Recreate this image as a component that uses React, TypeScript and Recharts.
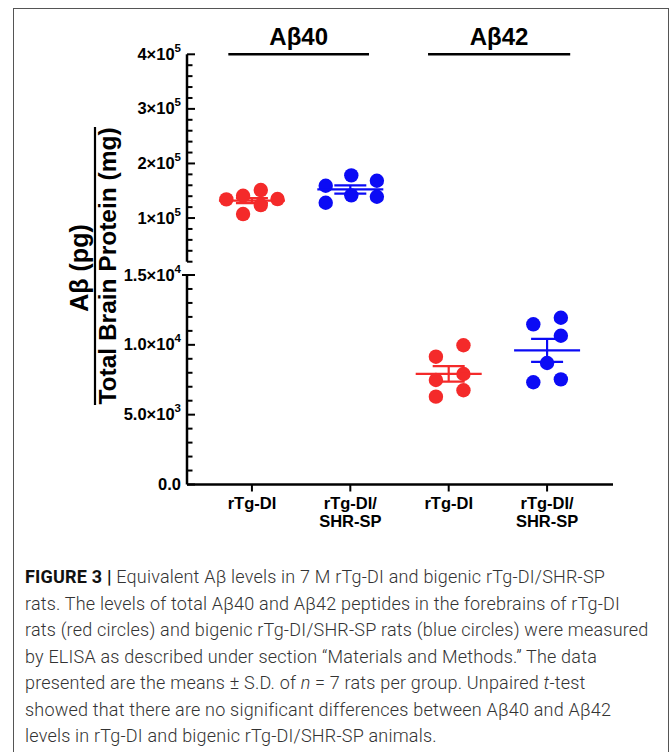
import React from 'react';
import { ScatterChart, Scatter, XAxis, YAxis, ErrorBar, ReferenceLine } from 'recharts';

const FONT = '"Liberation Sans", Arial, sans-serif';
const RED = '#f42a2a';
const BLUE = '#0b0bf5';

// x positions are group numbers; jitter is the horizontal spread
const groupTicks = [1, 2, 3, 4];
const groupLabels = [['rTg-DI'], ['rTg-DI/', 'SHR-SP'], ['rTg-DI'], ['rTg-DI/', 'SHR-SP']];

// Aβ40 (upper axis segment)
const ab40RedValues = [134200, 140800, 151300, 134800, 107300, 123800];
const ab40RedJitter = [-0.26, -0.09, 0.09, 0.26, -0.09, 0.09];
const ab40BlueValues = [159200, 128000, 178200, 141600, 168300, 139000];
const ab40BlueJitter = [-0.25, -0.25, 0.01, 0.01, 0.27, 0.27];

// Aβ42 (lower axis segment)
const ab42RedValues = [9150, 9970, 7480, 7910, 6750, 6290];
const ab42RedJitter = [-0.13, 0.15, -0.13, 0.15, 0.15, -0.13];
const ab42BlueValues = [11470, 11940, 10650, 8700, 7320, 7530];
const ab42BlueJitter = [-0.14, 0.14, 0.14, 0, -0.14, 0.14];

// mean ± error for each group
const groupMeans = [132000, 152400, 7920, 9600];
const groupErrors = [4600, 7600, 550, 820];

const upperTicks = [
  20000, 40000, 60000, 80000, 100000, 120000, 140000, 160000, 180000, 200000,
  220000, 240000, 260000, 280000, 300000, 320000, 340000, 360000, 380000, 400000,
];
const upperLabels: Record<number, [string, string]> = {
  100000: ['1×10', '5'],
  200000: ['2×10', '5'],
  300000: ['3×10', '5'],
  400000: ['4×10', '5'],
};
const lowerTicks = [
  0, 1000, 2000, 3000, 4000, 5000, 6000, 7000, 8000, 9000, 10000, 11000, 12000, 13000, 14000, 15000,
];
const lowerLabels: Record<number, [string, string]> = {
  0: ['0.0', ''],
  5000: ['5.0×10', '3'],
  10000: ['1.0×10', '4'],
  15000: ['1.5×10', '4'],
};

const toPoints = (values: number[], jitter: number[], group: number) =>
  values.map((v, i) => ({ x: group + jitter[i], y: v }));

const W = 672;
const H = 560;
const X_DOMAIN: [number, number] = [0.34, 4.67];
const MARGIN_X = { left: 87, right: 59 };

function Dot(color: string) {
  return (p: any) => <circle cx={p.cx} cy={p.cy} r={7.2} fill={color} />;
}

function MeanLine(color: string) {
  return (p: any) => (
    <line x1={p.cx - 33} x2={p.cx + 33} y1={p.cy} y2={p.cy} stroke={color} strokeWidth={2.2} />
  );
}

function YTick({ x, y, payload, labels, capValue }: any) {
  const label = labels[payload.value];
  const major = label !== undefined;
  return (
    <g>
      <line
        x1={payload.value === capValue ? x - 5 : x}
        x2={x + (major ? 8 : 5.5)}
        y1={y}
        y2={y}
        stroke="#000"
        strokeWidth={2}
      />
      {label && (
        <text x={x - 6} y={y} dy={5.5} textAnchor="end" fontSize={16.5} fontWeight="bold" fill="#000">
          <tspan>{label[0]}</tspan>
          {label[1] && (
            <tspan dy={-8} fontSize={11.5}>
              {label[1]}
            </tspan>
          )}
        </text>
      )}
    </g>
  );
}

function XTick({ x, y, payload }: any) {
  const lines = groupLabels[payload.value - 1] || [];
  return (
    <text x={x} y={y} textAnchor="middle" fontSize={16.5} fontWeight="bold" fill="#000">
      {lines.map((l, i) => (
        <tspan key={i} x={x} dy={i === 0 ? 9 : 18.5}>
          {l}
        </tspan>
      ))}
    </text>
  );
}

function MeanSeries({ group, color }: { group: number; color: string }) {
  const data = [{ x: groupTicks[group], y: groupMeans[group], err: groupErrors[group] }];
  return (
    <Scatter data={data} shape={MeanLine(color)} isAnimationActive={false}>
      <ErrorBar dataKey="err" direction="y" width={16} stroke={color} strokeWidth={2.2} isAnimationActive={false} />
    </Scatter>
  );
}

export default function App() {
  return (
    <div style={{ position: 'relative', width: W, height: 752, overflow: 'hidden', fontFamily: FONT, background: '#fff' }}>
      <style>{'body{margin:0}'}</style>
      <div style={{ position: 'absolute', left: 13, top: 8, width: 656, height: 800, border: '1px solid #555', boxSizing: 'border-box' }} />

      {/* upper segment: Aβ40 */}
      <div style={{ position: 'absolute', left: 0, top: 0 }}>
        <ScatterChart width={W} height={H} margin={{ top: 54.3, bottom: H - 261.7, ...MARGIN_X }}>
          <XAxis type="number" dataKey="x" domain={X_DOMAIN} hide />
          <YAxis
            type="number"
            dataKey="y"
            width={100}
            domain={[20000, 400000]}
            ticks={upperTicks}
            interval={0}
            tickLine={false}
            tickSize={0}
            tickMargin={0}
            axisLine={{ stroke: '#000', strokeWidth: 2.5 }}
            tick={<YTick labels={upperLabels} capValue={-1} />}
          />
          <ReferenceLine
            segment={[{ x: 0.76, y: 400000 }, { x: 2.19, y: 400000 }]}
            stroke="#000"
            strokeWidth={2.5}
            label={{ value: 'Aβ40', position: 'top', offset: 9, fontSize: 24, fontWeight: 'bold', fill: '#000' }}
          />
          <ReferenceLine
            segment={[{ x: 2.79, y: 400000 }, { x: 4.235, y: 400000 }]}
            stroke="#000"
            strokeWidth={2.5}
            label={{ value: 'Aβ42', position: 'top', offset: 9, fontSize: 24, fontWeight: 'bold', fill: '#000' }}
          />
          <Scatter data={toPoints(ab40RedValues, ab40RedJitter, 1)} shape={Dot(RED)} isAnimationActive={false} />
          <Scatter data={toPoints(ab40BlueValues, ab40BlueJitter, 2)} shape={Dot(BLUE)} isAnimationActive={false} />
          {MeanSeries({ group: 0, color: RED })}
          {MeanSeries({ group: 1, color: BLUE })}
        </ScatterChart>
      </div>

      {/* lower segment: Aβ42 */}
      <div style={{ position: 'absolute', left: 0, top: 0 }}>
        <ScatterChart width={W} height={H} margin={{ top: 275, bottom: H - 484.5 - 40, ...MARGIN_X }}>
          <XAxis
            type="number"
            dataKey="x"
            domain={X_DOMAIN}
            ticks={groupTicks}
            interval={0}
            height={40}
            tickSize={7}
            tickMargin={8}
            axisLine={{ stroke: '#000', strokeWidth: 2.5 }}
            tickLine={{ stroke: '#000', strokeWidth: 2 }}
            tick={<XTick />}
          />
          <YAxis
            type="number"
            dataKey="y"
            width={100}
            domain={[0, 15000]}
            ticks={lowerTicks}
            interval={0}
            tickLine={false}
            tickSize={0}
            tickMargin={0}
            axisLine={{ stroke: '#000', strokeWidth: 2.5 }}
            tick={<YTick labels={lowerLabels} capValue={15000} />}
          />
          <Scatter data={toPoints(ab42RedValues, ab42RedJitter, 3)} shape={Dot(RED)} isAnimationActive={false} />
          <Scatter data={toPoints(ab42BlueValues, ab42BlueJitter, 4)} shape={Dot(BLUE)} isAnimationActive={false} />
          {MeanSeries({ group: 2, color: RED })}
          {MeanSeries({ group: 3, color: BLUE })}
        </ScatterChart>
      </div>

      {/* y-axis title as a fraction */}
      <svg width={W} height={H} style={{ position: 'absolute', left: 0, top: 0, pointerEvents: 'none' }}>
        <g transform="translate(0,266) rotate(-90)" fontWeight="bold" fill="#000" textAnchor="middle">
          <text x={-2} y={88} fontSize={25}>Aβ (pg)</text>
          <line x1={-139} x2={139} y1={95} y2={95} stroke="#000" strokeWidth={2.2} />
          <text x={0} y={116} fontSize={24.5}>Total Brain Protein (mg)</text>
        </g>
      </svg>

      <div
        style={{
          position: 'absolute',
          left: 25,
          top: 564,
          fontFamily: 'Roboto, "Liberation Sans", sans-serif',
          fontWeight: 300,
          fontSize: 18,
          letterSpacing: 0.2,
          lineHeight: '26.5px',
          color: '#333',
          whiteSpace: 'nowrap',
        }}
      >
        <b style={{ color: '#111', fontWeight: 700 }}>FIGURE 3 |</b> Equivalent Aβ levels in 7 M rTg-DI and bigenic rTg-DI/SHR-SP
        <br />
        rats. The levels of total Aβ40 and Aβ42 peptides in the forebrains of rTg-DI
        <br />
        rats (red circles) and bigenic rTg-DI/SHR-SP rats (blue circles) were measured
        <br />
        by ELISA as described under section “Materials and Methods.” The data
        <br />
        presented are the means ± S.D. of <i>n</i> = 7 rats per group. Unpaired <i>t</i>-test
        <br />
        showed that there are no significant differences between Aβ40 and Aβ42
        <br />
        levels in rTg-DI and bigenic rTg-DI/SHR-SP animals.
      </div>
    </div>
  );
}
